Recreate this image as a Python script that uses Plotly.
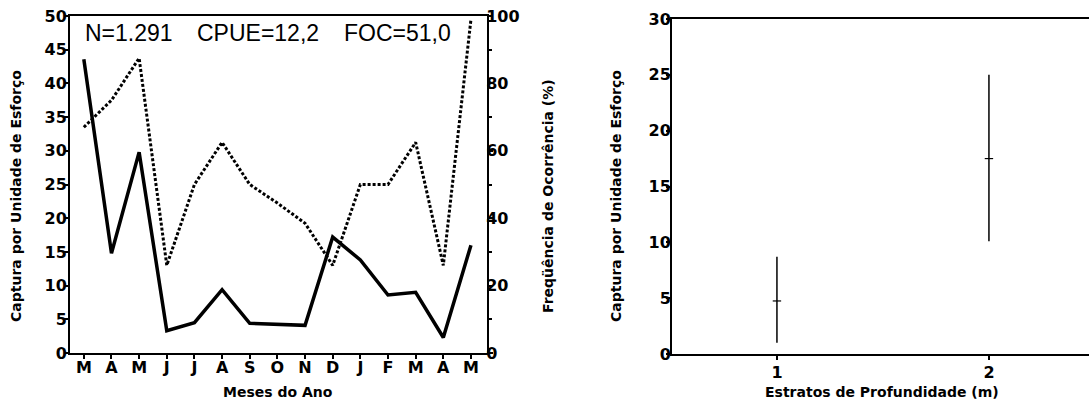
import plotly.graph_objects as go

# ---- data ----
months = ["M", "A", "M", "J", "J", "A", "S", "O", "N", "D", "J", "F", "M", "A", "M"]
cpue = [43.6, 14.8, 29.8, 3.3, 4.5, 9.4, 4.4, 4.3, 4.1, 17.2, 13.8, 8.6, 9.0, 2.3, 16.0]
foc = [67, 75, 87.5, 26, 50, 62.5, 50, 44.5, 38.5, 26, 50, 50, 62.5, 26, 99]

strata = [1, 2]
strata_med = [4.75, 17.5]
strata_lo = [1.0, 10.1]
strata_hi = [8.7, 25.0]

W, H = 1089, 404
TICKFONT = dict(family="DejaVu Sans", size=16, color="black", weight="bold")
TITLEFONT = dict(family="DejaVu Sans", size=14, color="black")

def px(x):
    return x / W

def py(y):
    return (H - y) / H

xi = list(range(len(months)))

fig = go.Figure()
fig.add_trace(go.Scatter(x=xi, y=cpue, mode="lines",
                         line=dict(color="black", width=3.5),
                         xaxis="x", yaxis="y", showlegend=False))
fig.add_trace(go.Scatter(x=xi, y=foc, mode="lines",
                         line=dict(color="black", width=3, dash="3px,2px"),
                         xaxis="x", yaxis="y2", showlegend=False))

fig.add_trace(go.Scatter(
    x=strata, y=strata_med, mode="markers",
    marker=dict(symbol="line-ew", size=6, line=dict(color="black", width=1.2)),
    error_y=dict(type="data", symmetric=False,
                 array=[h - m for h, m in zip(strata_hi, strata_med)],
                 arrayminus=[m - l for m, l in zip(strata_med, strata_lo)],
                 width=0, thickness=1.5, color="black"),
    xaxis="x2", yaxis="y3", showlegend=False))

axis_common = dict(showline=True, linecolor="black", linewidth=2, ticks="outside",
                   ticklen=4, tickwidth=1.5, tickcolor="black", showgrid=False,
                   zeroline=False, tickfont=TICKFONT, automargin=False)

fig.update_layout(
    width=W, height=H, autosize=False,
    margin=dict(l=0, r=0, t=0, b=0, pad=0, autoexpand=False),
    paper_bgcolor="white", plot_bgcolor="white",
    xaxis=dict(domain=[px(70), px(487)], range=[-0.5, 14.58], anchor="y",
               tickmode="array", tickvals=xi, ticktext=months, mirror=True,
               ticklabelstandoff=-5, **axis_common),
    yaxis=dict(domain=[py(353), py(16)], range=[0, 50], anchor="x",
               tickmode="linear", tick0=0, dtick=5, ticklabelstandoff=-6,
               **axis_common),
    yaxis2=dict(overlaying="y", side="right", anchor="x", range=[0, 100],
                tickmode="linear", tick0=0, dtick=20, ticklabelstandoff=-10,
                minor=dict(dtick=10, ticklen=3, ticks="outside", tickcolor="black"),
                **axis_common),
    xaxis2=dict(domain=[px(672), 1.0], range=[0.505, 2.472], anchor="y3",
                tickmode="array", tickvals=strata, ticktext=["1", "2"], mirror=True,
                ticklabelstandoff=-1, **axis_common),
    yaxis3=dict(domain=[py(354), py(19)], range=[0, 30], anchor="x2",
                tickmode="linear", tick0=0, dtick=5, ticklabelstandoff=-8,
                **axis_common),
)

ann = []
# statistics text
for txt, x0 in [("N=1.291", 83), ("CPUE=12,2", 195), ("FOC=51,0", 342)]:
    ann.append(dict(text=txt, x=px(x0), y=py(33), xref="paper", yref="paper",
                    xanchor="left", yanchor="middle", showarrow=False,
                    font=dict(family="Liberation Sans", size=23, color="black")))
# axis titles
ann.append(dict(text="<b>Captura por Unidade de Esforço</b>", x=px(16), y=py(196),
                xref="paper", yref="paper", textangle=-90, showarrow=False,
                xanchor="center", yanchor="middle", font=TITLEFONT))
ann.append(dict(text="<b>Freqüência de Ocorrência (%)</b>", x=px(548), y=py(196),
                xref="paper", yref="paper", textangle=-90, showarrow=False,
                xanchor="center", yanchor="middle", font=TITLEFONT))
ann.append(dict(text="<b>Meses do Ano</b>", x=px(278), y=py(392),
                xref="paper", yref="paper", showarrow=False,
                xanchor="center", yanchor="middle", font=TITLEFONT))
ann.append(dict(text="<b>Captura por Unidade de Esforço</b>", x=px(616), y=py(196),
                xref="paper", yref="paper", textangle=-90, showarrow=False,
                xanchor="center", yanchor="middle", font=TITLEFONT))
ann.append(dict(text="<b>Estratos de Profundidade (m)</b>", x=px(882), y=py(392),
                xref="paper", yref="paper", showarrow=False,
                xanchor="center", yanchor="middle", font=TITLEFONT))
fig.update_layout(annotations=ann)

fig.write_html("out.html")
